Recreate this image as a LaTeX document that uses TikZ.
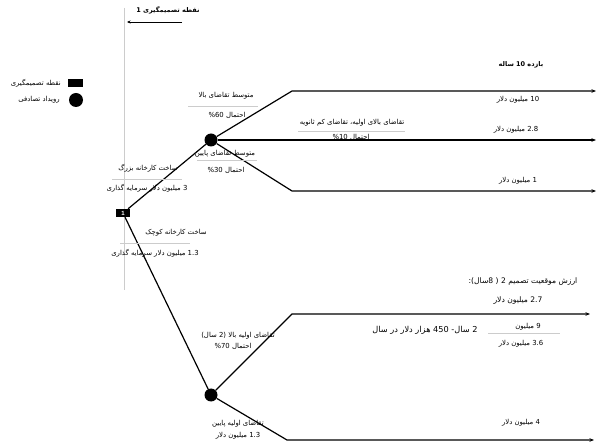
\documentclass[tikz,border=0pt]{standalone}
\usepackage{fontspec}
\setmainfont{Liberation Sans}
\newfontfamily\fa[Script=Arabic]{DejaVu Sans}
\TeXXeTstate=1
\usetikzlibrary{arrows.meta}
\newcommand\fat[1]{\beginR #1\endR}
\tikzset{
  lbl/.style={inner sep=0pt, font=\fa\fontsize{6.9}{8}\selectfont},
  biglbl/.style={inner sep=0pt, font=\fa\fontsize{7.6}{9}\selectfont},
  yrlbl/.style={inner sep=0pt, font=\fa\fontsize{8.2}{9}\selectfont},
  titlelbl/.style={inner sep=0pt, font=\fa\bfseries\fontsize{6.5}{7.5}\selectfont},
  branch/.style={line width=1.2pt, black, -{Stealth[length=4.5pt,width=3.5pt]}},
  conn/.style={line width=1.2pt, black},
  gline/.style={line width=0.5pt, black!20},
  decnode/.style={fill=black, text=white, minimum width=14pt, minimum height=8pt, inner sep=0pt, font=\bfseries\fontsize{6}{6}\selectfont},
  chancenode/.style={circle, fill=black, minimum size=13pt, inner sep=0pt},
}
\begin{document}
\begin{tikzpicture}[x=1pt,y=-1pt]
\useasboundingbox (0,0) rectangle (600,446);
% vertical guide line
\coordinate (vtop) at (124,8);
\coordinate (vbot) at (124,290);
\draw[gline] (vtop) -- (vbot);
% title
\node[titlelbl] (title) at (168,10) {\fat{نقطه تصمیمگیری 1}};
\coordinate (ta) at (182,22);
\coordinate (tb) at (127,22);
\draw[line width=0.8pt, -{Stealth[length=3.5pt,width=3pt]}] (ta) -- (tb);
% legend
\node[fill=black, minimum width=15pt, minimum height=8pt, inner sep=0pt] (legrect) at (75.5,83) {};
\node[lbl, anchor=east] (legrectlbl) at (61,83) {\fat{نقطه تصمیمگیری}};
\node[chancenode, minimum size=14pt] (legcirc) at (76,100) {};
\node[lbl, anchor=east] (legcirclbl) at (60,100) {\fat{رویداد تصادفی}};
% nodes
\node[decnode] (d1) at (123,213) {1};
\node[chancenode] (c1) at (211,140) {};
\node[chancenode] (c2) at (211,395) {};
\coordinate (u1) at (292,91);
\coordinate (u1e) at (596,91);
\coordinate (m1e) at (596,140);
\coordinate (l1) at (292,191);
\coordinate (l1e) at (596,191);
\coordinate (u2) at (292,314);
\coordinate (u2e) at (590,314);
\coordinate (l2) at (287,440);
\coordinate (l2e) at (594,440);
% connectors
\draw[conn] (d1) -- (c1);
\draw[conn] (d1) -- (c2);
\draw[branch] (c1) -- (u1) -- (u1e);
\draw[branch] (c1) -- (m1e);
\draw[branch] (c1) -- (l1) -- (l1e);
\draw[branch] (c2) -- (u2) -- (u2e);
\draw[branch] (c2) -- (l2) -- (l2e);
% gray separator lines
\coordinate (g1a) at (188,106); \coordinate (g1b) at (258,106);
\draw[gline] (g1a) -- (g1b);
\coordinate (g2a) at (197,160); \coordinate (g2b) at (257,160);
\draw[gline] (g2a) -- (g2b);
\coordinate (g3a) at (112,179); \coordinate (g3b) at (182,179);
\draw[gline] (g3a) -- (g3b);
\coordinate (g4a) at (120,243); \coordinate (g4b) at (190,243);
\draw[gline] (g4a) -- (g4b);
\coordinate (g5a) at (298,131); \coordinate (g5b) at (405,131);
\draw[gline] (g5a) -- (g5b);
\coordinate (g6a) at (488,333); \coordinate (g6b) at (560,333);
\draw[gline] (g6a) -- (g6b);
% labels upper
\node[titlelbl] (payoff) at (521,65) {\fat{بازده 10 ساله}};
\node[lbl] (hi) at (226,96) {\fat{متوسط تقاضای بالا}};
\node[lbl] (p60) at (227,115) {\fat{احتمال \beginL\%60\endL}};
\node[lbl] (v10) at (518,100) {\fat{10 میلیون دلار}};
\node[lbl] (hilo) at (352,123) {\fat{تقاضای بالای اولیه، تقاضای کم ثانویه}};
\node[lbl] (p10) at (351,137) {\fat{احتمال \beginL\%10\endL}};
\node[lbl] (v28) at (516,130) {\fat{2.8 میلیون دلار}};
\node[lbl] (lo) at (225,154) {\fat{متوسط تقاضای پایین}};
\node[lbl] (p30) at (226,170) {\fat{احتمال \beginL\%30\endL}};
\node[lbl] (v1) at (518,181) {\fat{1 میلیون دلار}};
\node[lbl] (big) at (148,168) {\fat{ساخت کارخانه بزرگ}};
\node[lbl] (bigc) at (147,188) {\fat{3 میلیون دلار سرمایه گذاری}};
\node[lbl] (small) at (176,233) {\fat{ساخت کارخانه کوچک}};
\node[lbl] (smallc) at (155,253) {\fat{1.3 میلیون دلار سرمایه گذاری}};
% labels lower
\node[biglbl] (d2val) at (523,282) {\fat{ارزش موقعیت تصمیم 2 ( 8سال):}};
\node[biglbl] (v27) at (518,301) {\fat{2.7 میلیون دلار}};
\node[yrlbl] (yr) at (425,330) {\fat{2 سال- 450 هزار دلار در سال}};
\node[lbl] (v9) at (528,327) {\fat{9 میلیون}};
\node[lbl] (v36) at (521,344) {\fat{3.6 میلیون دلار}};
\node[lbl] (hi2) at (238,336) {\fat{تقاضای اولیه بالا (2 سال)}};
\node[lbl] (p70) at (233,346) {\fat{احتمال \beginL\%70\endL}};
\node[lbl] (lo2) at (238,424) {\fat{تقاضای اولیه پایین}};
\node[lbl] (v13) at (238,436) {\fat{1.3 میلیون دلار}};
\node[lbl] (v4) at (521,423) {\fat{4 میلیون دلار}};
\end{tikzpicture}
\end{document}
